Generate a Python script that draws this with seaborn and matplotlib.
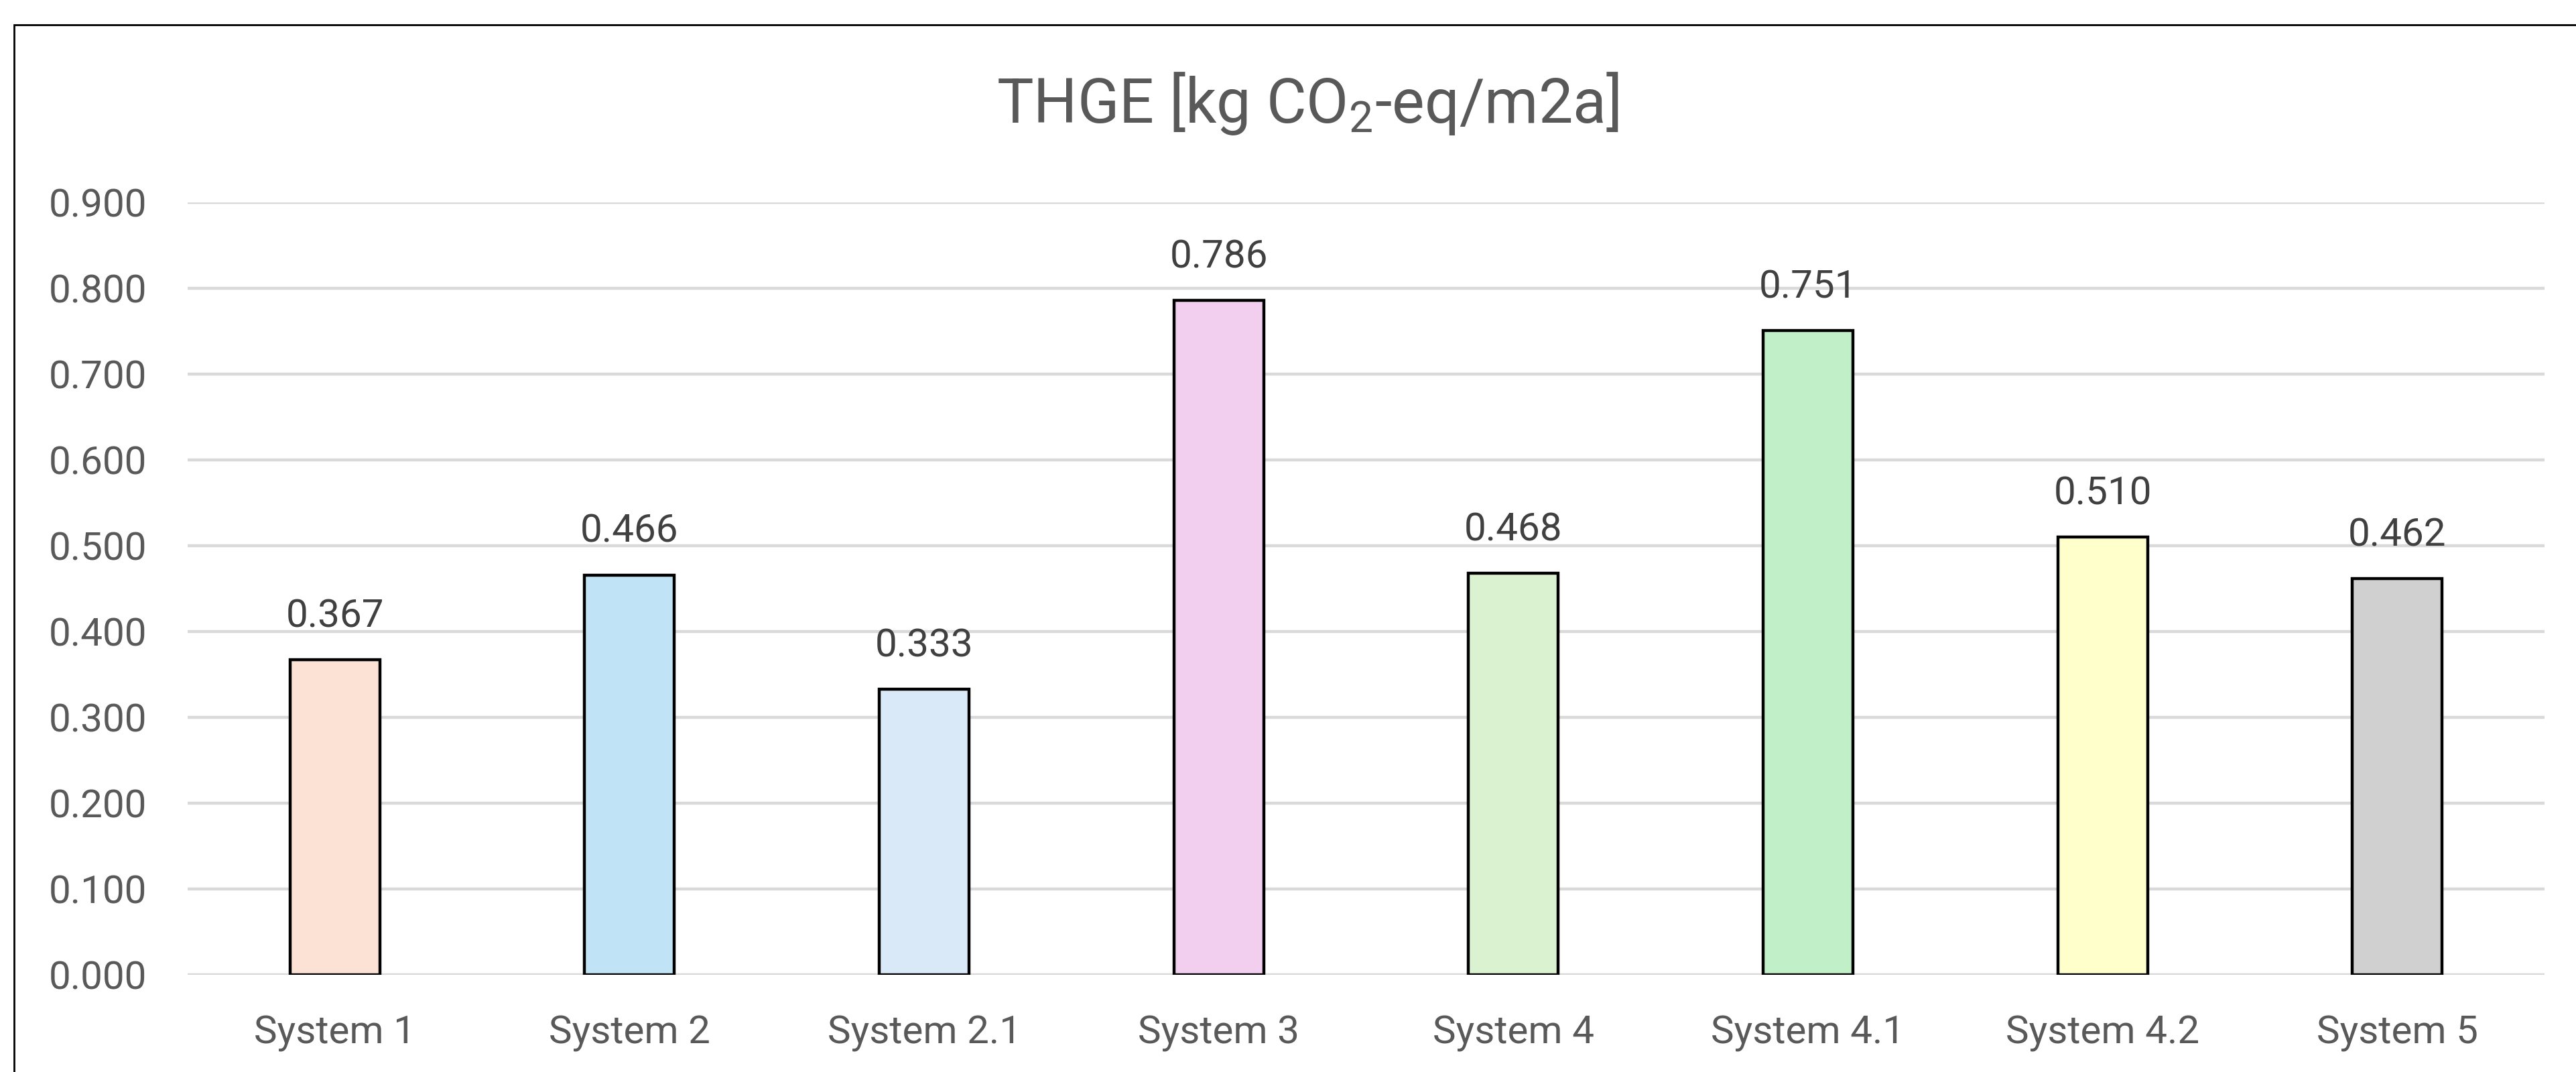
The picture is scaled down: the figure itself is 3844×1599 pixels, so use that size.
import matplotlib
matplotlib.use("Agg")
import matplotlib.pyplot as plt
import matplotlib.patches as mpatches
import numpy as np
import pandas as pd
import seaborn as sns

# values
systems = ["System 1", "System 2", "System 2.1", "System 3",
           "System 4", "System 4.1", "System 4.2", "System 5"]
thge = [0.367, 0.466, 0.333, 0.786, 0.468, 0.751, 0.510, 0.462]
bar_colors = ["#FBE2D5", "#C0E4F5", "#DAE9F8", "#F2CEEF",
              "#DAF2D0", "#C1F0C8", "#FFFFCC", "#D0D0D0"]
y_ticks = [0.0, 0.1, 0.2, 0.3, 0.4, 0.5, 0.6, 0.7, 0.8, 0.9]
title = "THGE [kg CO$_2$-eq/m2a]"

sns.set_theme(style="white")
plt.rcParams["font.family"] = ["Roboto", "DejaVu Sans"]
plt.rcParams["mathtext.fontset"] = "custom"
plt.rcParams["mathtext.rm"] = "Roboto"
plt.rcParams["mathtext.it"] = "Roboto:italic"
plt.rcParams["mathtext.bf"] = "Roboto:bold"

df = pd.DataFrame({"system": systems, "value": thge})

W, H, DPI = 3844, 1599, 200
fig = plt.figure(figsize=(W / DPI, H / DPI), dpi=DPI)
ax = fig.add_axes([280 / W, 1 - 1454 / H, (3797 - 280) / W, (1454 - 302) / H])

sns.barplot(data=df, x="system", y="value", hue="system", palette=bar_colors,
            saturation=1, width=0.305, edgecolor="black", linewidth=1.6,
            legend=False, dodge=False, ax=ax, zorder=3)

ax.set_ylim(0, 0.9)
ax.set_xlim(-0.5, len(systems) - 0.5)
ax.set_yticks(y_ticks)
ax.set_yticklabels([f"{v:.3f}" for v in y_ticks])
ax.set_xlabel("")
ax.set_ylabel("")
ax.yaxis.grid(True, color="#D9D9D9", linewidth=1.6)
ax.xaxis.grid(False)
ax.set_axisbelow(True)
for s in ax.spines.values():
    s.set_visible(False)
ax.tick_params(axis="y", length=0, pad=22, labelsize=21, labelcolor="#595959")
ax.tick_params(axis="x", length=0, pad=21.5, labelsize=21, labelcolor="#595959")

for i, v in enumerate(thge):
    ax.annotate(f"{v:.3f}", xy=(i, v), xytext=(0, 17.5), textcoords="offset points",
                ha="center", va="baseline", fontsize=21, color="#404040")

fig.text(0.5076, 1 - 183 / H, title, ha="center", va="baseline",
         fontsize=33, color="#595959")

# chart area border (Excel style), partly cut off at right/bottom
border = mpatches.Rectangle((21 / W, -0.2), 1.2, (1 - 37 / H) + 0.2,
                            transform=fig.transFigure, fill=False,
                            edgecolor="black", linewidth=1.0)
fig.patches.append(border)

fig.savefig("out.png", dpi=DPI)
